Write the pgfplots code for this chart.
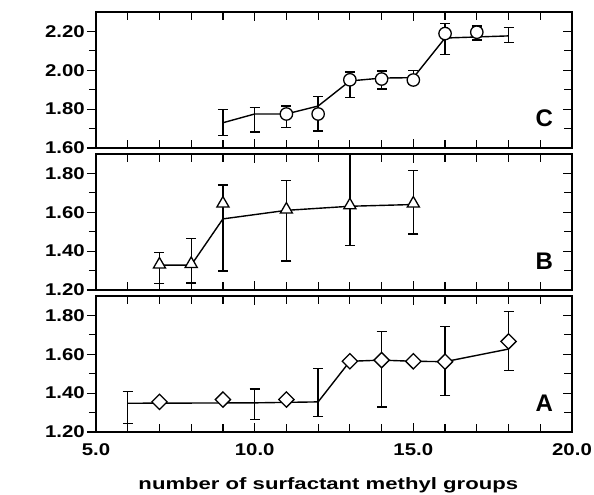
\documentclass[border=0pt]{standalone}
\usepackage{pgfplots}
\pgfplotsset{compat=1.18}
\usepackage{graphicx}
\usepackage{fontspec}
\setmainfont{Liberation Sans}
\newcommand\wide[1]{\scalebox{1.2}[1]{#1}}

\tikzset{tag/.style={font=\fontsize{24}{26}\selectfont\bfseries}}
\pgfplotsset{
  panel/.style={
    scale only axis, width=476pt, height=136pt,
    xmin=5, xmax=20,
    minor x tick num=4, minor y tick num=1,
    axis line style={line width=1.8pt},
    every tick/.style={black, line width=1.2pt},
    /pgf/number format/assume math mode=true,
    tick label style={font=\fontsize{17}{19}\selectfont\bfseries},
    clip=true,
  },
  dpanel/.style={panel, tick align=outside, ytick pos=left, xtick pos=bottom,
    major tick length=9pt, minor tick length=7pt,
    major x tick style={draw=none}, minor x tick style={draw=none},
    yticklabel={\wide{\pgfmathprintnumber[fixed,fixed zerofill,precision=2]{\tick}}},
    yticklabel style={inner sep=0pt, xshift=-2pt},
  },
  fpanel/.style={panel, tick align=inside, ytick pos=right, xtick pos=both,
    major tick length=9pt, minor tick length=8pt,
    xticklabels={}, yticklabels={},
    xtick={5,10,15,20},
  },
  errs/.style={draw=none, mark=none, forget plot,
    error bars/.cd, y dir=both, y explicit,
    error bar style={draw=black, line width=1.3pt},
    error mark options={draw=black, line width=1.3pt, mark size=5pt, rotate=90}},
  mean/.style={black, line width=1.4pt, mark=none},
  pts/.style={only marks, mark options={draw=black, fill=white, line width=1.3pt, solid}},
}

\begin{document}
\begin{tikzpicture}
\useasboundingbox (0,0) rectangle (594pt,495pt);

% panel C
\begin{axis}[dpanel, at={(96pt,347pt)}, anchor=south west,
  ymin=1.6, ymax=2.3, ytick={1.6,1.8,2.0,2.2}, xtick=\empty]
  \addplot[errs] coordinates {
    (9,1.732) +- (0,0.066) (10,1.746) +- (0,0.063) (11,1.760) +- (0,0.056)
    (12,1.776) +- (0,0.089) (13,1.926) +- (0,0.065) (14,1.950) +- (0,0.046)
    (15,1.965) +- (0,0.035) (16,2.162) +- (0,0.079) (17,2.192) +- (0,0.036)
    (18,2.182) +- (0,0.040)};
  \addplot[mean] coordinates {
    (9,1.730) (10,1.775) (11,1.775) (12,1.816) (13,1.945) (14,1.960)
    (15,1.962) (16,2.166) (18,2.177)};
  \addplot[pts, mark=*, mark size=6.2pt] coordinates {
    (11,1.775) (12,1.775) (13,1.951) (14,1.955) (15,1.950) (16,2.189) (17,2.196)};
  \node[tag] at (rel axis cs:0.942,0.22) {C};
\end{axis}
\begin{axis}[fpanel, at={(96pt,347pt)}, anchor=south west,
  ymin=1.6, ymax=2.3, ytick={1.6,1.8,2.0,2.2}]
\end{axis}

% panel B
\begin{axis}[dpanel, at={(96pt,205pt)}, anchor=south west,
  ymin=1.2, ymax=1.9, ytick={1.2,1.4,1.6,1.8}, xtick=\empty]
  \addplot[errs] coordinates {
    (7,1.314) +- (0,0.079) (8,1.350) +- (0,0.114) (9,1.519) +- (0,0.221)
    (11,1.557) +- (0,0.207) (13,1.680) +- (0,0.250) (15,1.651) +- (0,0.163)};
  \addplot[mean] coordinates {
    (7,1.328) (8,1.328) (9,1.566) (11,1.610) (13,1.631) (15,1.640)};
  \addplot[pts, mark=triangle*, mark size=7pt] coordinates {
    (7,1.331) (8,1.334) (9,1.645) (11,1.614) (13,1.636) (15,1.645)};
  \node[tag] at (rel axis cs:0.942,0.21) {B};
  \node[font=\fontsize{16.5}{18}\selectfont\bfseries, rotate=90]
    at (rel axis cs:-0.165,0.56) {\scalebox{1.4}[1]{d-spacing (nm)}};
\end{axis}
\begin{axis}[fpanel, at={(96pt,205pt)}, anchor=south west,
  ymin=1.2, ymax=1.9, ytick={1.2,1.4,1.6,1.8}]
\end{axis}

% panel A
\begin{axis}[dpanel, at={(96pt,63pt)}, anchor=south west,
  ymin=1.2, ymax=1.9, ytick={1.2,1.4,1.6,1.8},
  xtick={5,10,15,20},
  xticklabel={\wide{\pgfmathprintnumber[fixed,fixed zerofill,precision=1]{\tick}}},
  xticklabel style={inner sep=0pt, yshift=-2pt},
  xlabel={\scalebox{1.34}[1]{number of surfactant methyl groups}},
  xlabel style={font=\fontsize{16.5}{18}\selectfont\bfseries, anchor=base,
    at={(axis description cs:0.488,0)}, yshift=-57pt}]
  \addplot[errs] coordinates {
    (6,1.3265) +- (0,0.0815) (10,1.3425) +- (0,0.0795) (12,1.403) +- (0,0.123)
    (14,1.5225) +- (0,0.1945) (16,1.5655) +- (0,0.1775) (18,1.669) +- (0,0.152)};
  \addplot[mean] coordinates {
    (6,1.348) (8,1.349) (10,1.350) (12,1.355) (13,1.564) (14,1.570)
    (15,1.564) (16,1.562) (18,1.627)};
  \addplot[only marks, mark=square*, mark size=5.4pt,
    mark options={draw=black, fill=white, line width=1.3pt, solid, rotate=45}] coordinates {
    (7,1.355) (9,1.367) (11,1.367) (13,1.564) (14,1.570) (15,1.564) (16,1.562) (18,1.666)};
  \node[tag] at (rel axis cs:0.942,0.21) {A};
\end{axis}
\begin{axis}[fpanel, at={(96pt,63pt)}, anchor=south west,
  ymin=1.2, ymax=1.9, ytick={1.2,1.4,1.6,1.8}]
\end{axis}
\end{tikzpicture}
\end{document}
